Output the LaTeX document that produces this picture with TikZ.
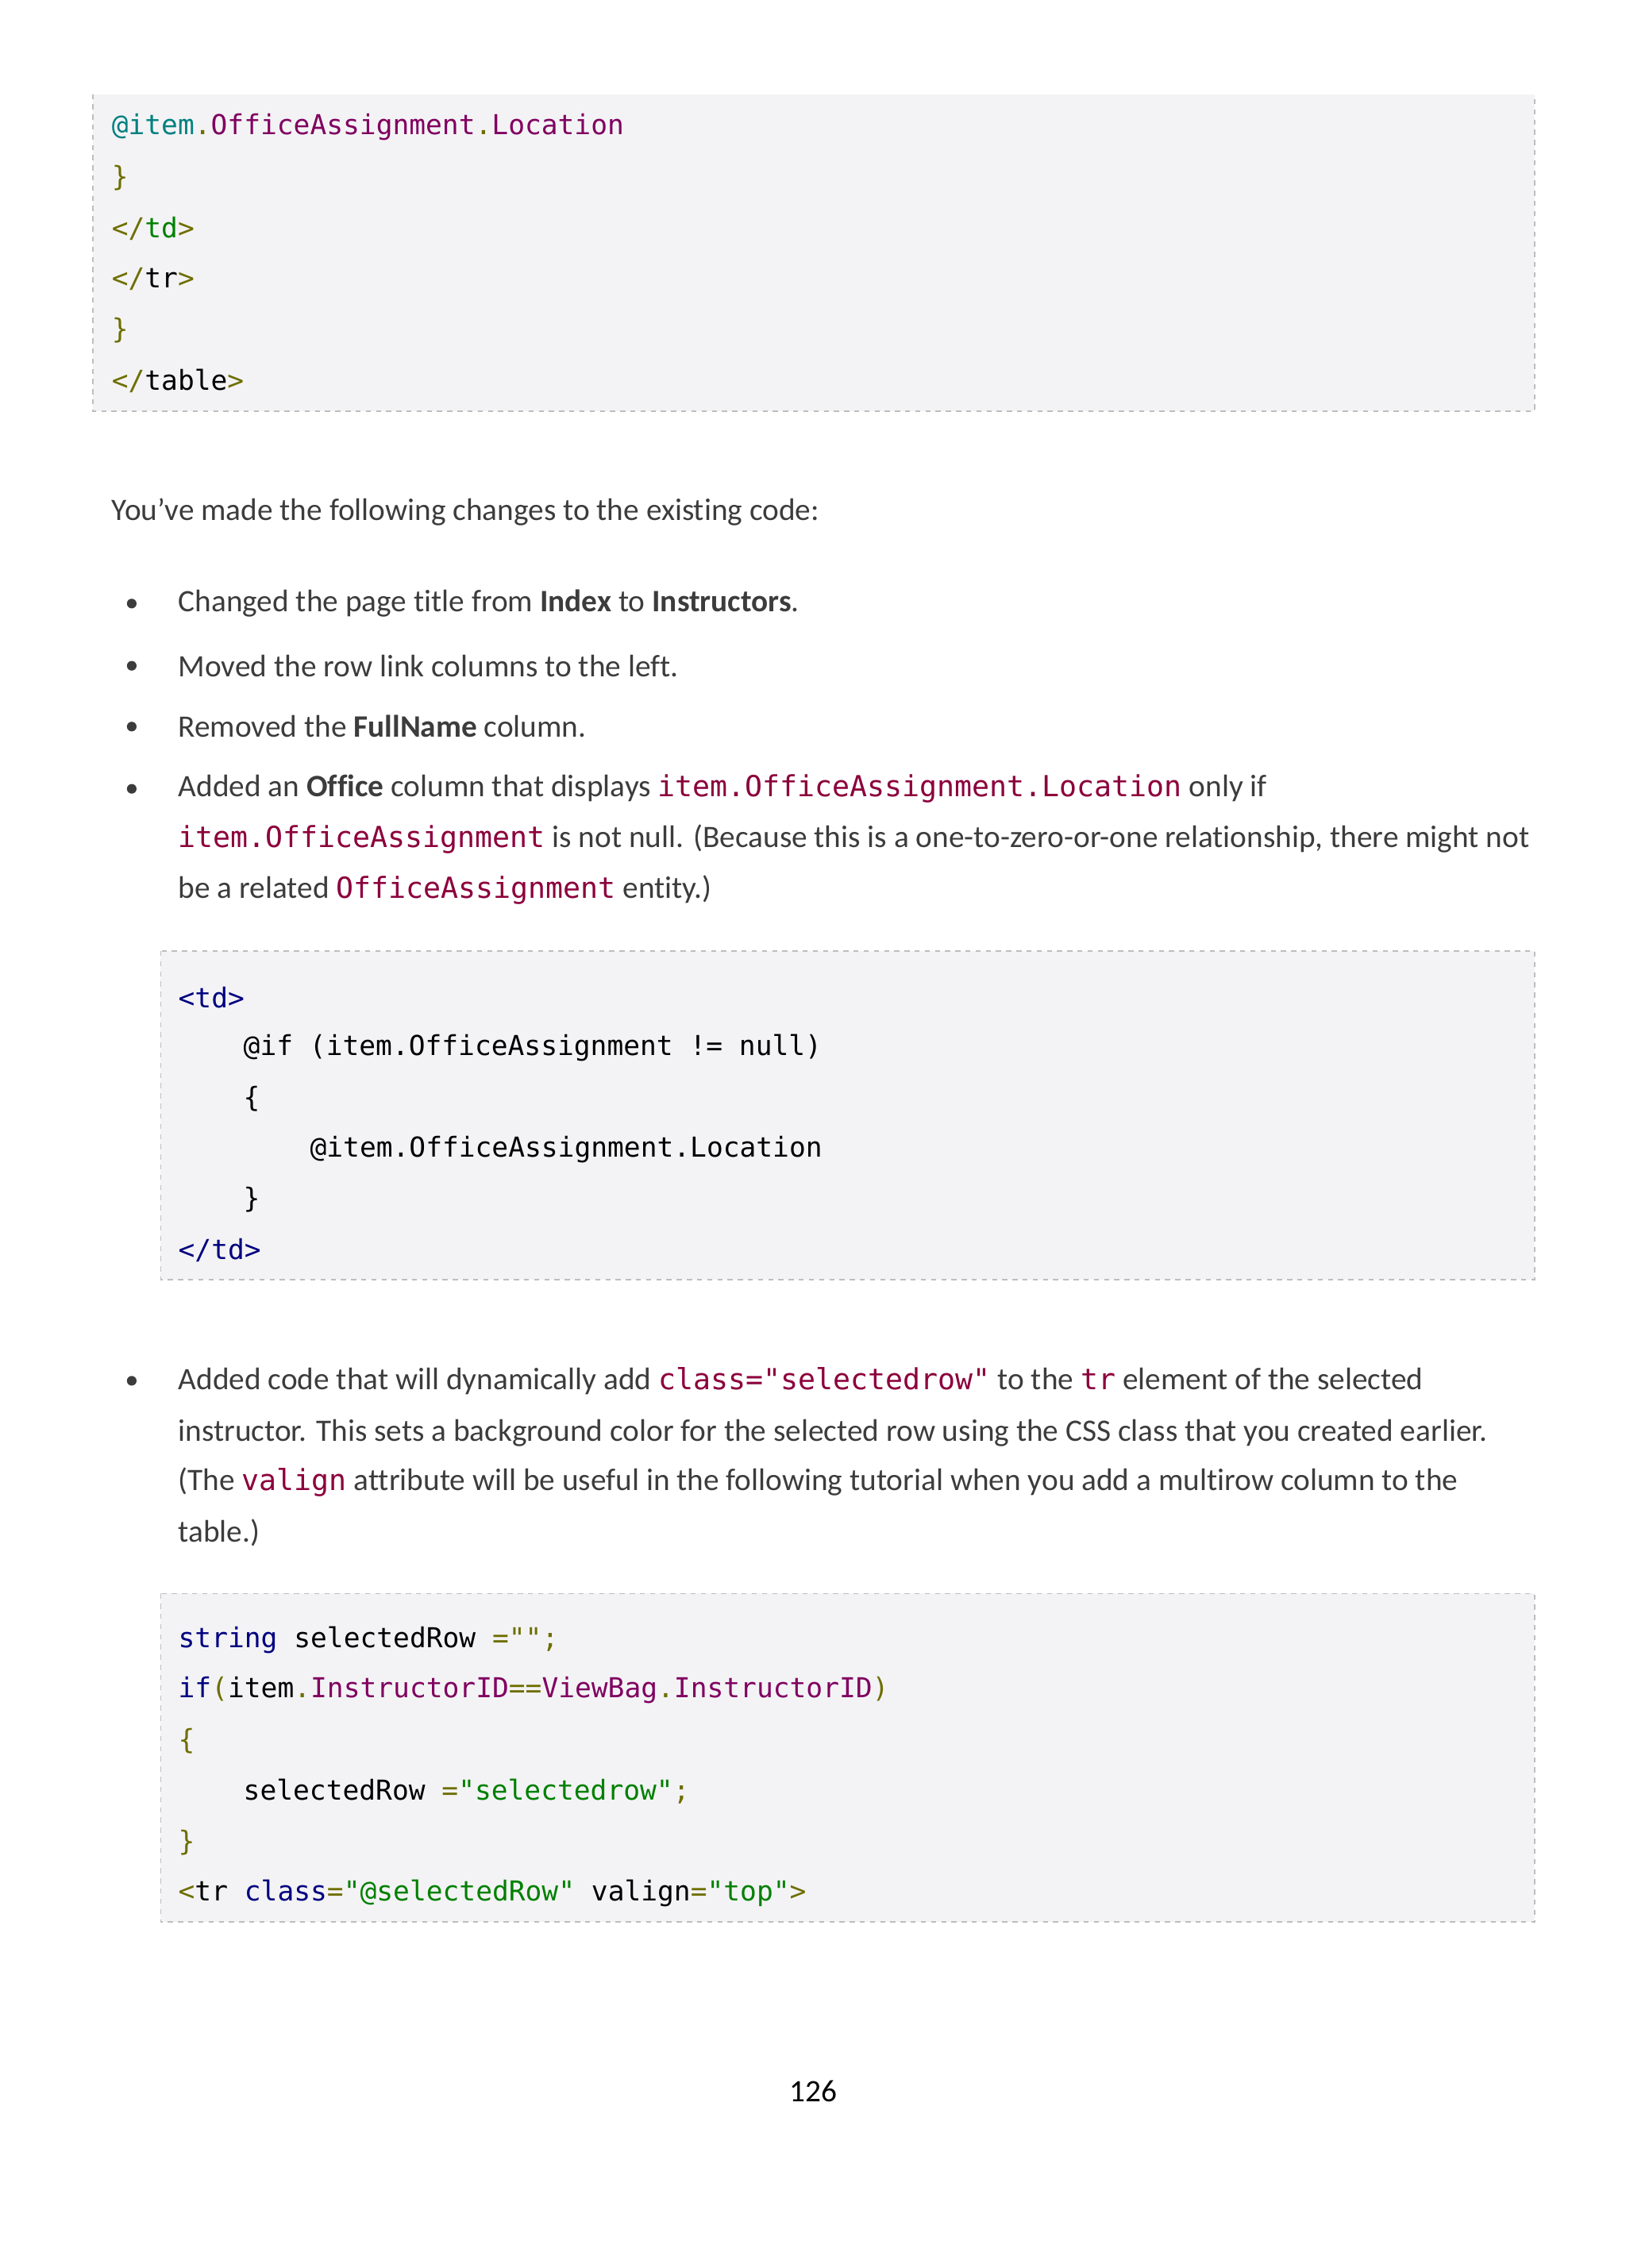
\documentclass[tikz,border=0pt]{standalone}
\usepackage{fontspec}
\setmainfont{Carlito}[Ligatures=NoCommon]
\setmonofont{DejaVu Sans Mono}[Scale=0.93]
\definecolor{bodytxt}{RGB}{60,60,60}
\definecolor{codebg}{RGB}{243,243,245}
\definecolor{boxline}{RGB}{190,190,190}
\definecolor{cteal}{RGB}{0,128,128}
\definecolor{cpurple}{RGB}{128,0,96}
\definecolor{colive}{RGB}{110,110,0}
\definecolor{cgreen}{RGB}{0,128,0}
\definecolor{cnavy}{RGB}{0,0,128}
\definecolor{cinline}{RGB}{140,0,60}
\newcommand{\cd}[1]{{\ttfamily\color{cinline}#1}}
\newcommand{\tl}[1]{{\color{cteal}#1}}
\newcommand{\pu}[1]{{\color{cpurple}#1}}
\newcommand{\ol}[1]{{\color{colive}#1}}
\newcommand{\gr}[1]{{\color{cgreen}#1}}
\newcommand{\nv}[1]{{\color{cnavy}#1}}
\begin{document}
\begin{tikzpicture}[x=0.03cm,y=-0.03cm,
  codeline/.style={anchor=west,inner sep=0,font=\ttfamily\fontsize{17.4}{19}\selectfont,text=black},
  bodyline/.style={anchor=west,inner sep=0,font=\fontsize{18.4}{21}\selectfont,text=bodytxt},
  codebox/.style={fill=codebg,draw=boxline,dashed,line width=0.8pt},
  dot/.style={circle,fill=bodytxt,inner sep=0,minimum size=0.2cm}]

\useasboundingbox[fill=white] (0,0) rectangle (1123,1567);

% first code box
\fill[codebg] (64,65) rectangle (1060,284);
\draw[boxline,dashed,line width=0.8pt] (64,65) -- (64,284) -- (1060,284) -- (1060,65);
\node[codeline] (a1) at (77,88) {\tl{@item}\ol{.}\pu{OfficeAssignment}\ol{.}\pu{Location}};
\node[codeline] (a2) at (77,123) {\ol{\}}};
\node[codeline] (a3) at (77,158) {\ol{</}\gr{td}\ol{>}};
\node[codeline] (a4) at (77,193) {\ol{</}tr\ol{>}};
\node[codeline] (a5) at (77,228) {\ol{\}}};
\node[codeline] (a6) at (77,263) {\ol{</}table\ol{>}};

\node[bodyline] (intro) at (77,354) {You've made the following changes to the existing code:};

% bullets
\foreach \y in {417,460,502,545,954} \node[dot] at (91,\y) {};
\node[bodyline] (b1) at (123,417) {Changed the page title from \textbf{Index} to \textbf{Instructors}.};
\node[bodyline] (b2) at (123,460) {Moved the row link columns to the left.};
\node[bodyline] (b3) at (123,502) {Removed the \textbf{FullName} column.};
\node[bodyline] (b4) at (123,545) {Added an \textbf{Office} column that displays \cd{item.OfficeAssignment.Location} only if};
\node[bodyline] (b4b) at (123,580) {\cd{item.OfficeAssignment} is not null. (Because this is a one-to-zero-or-one relationship, there might not};
\node[bodyline] (b4c) at (123,615) {be a related \cd{OfficeAssignment} entity.)};

% second code box
\draw[codebox] (111,657) rectangle (1060,884);
\node[codeline] (c1) at (123,689) {\nv{<td>}};
\node[codeline] (c2) at (168,724) {@if (item.OfficeAssignment != null)};
\node[codeline] (c3) at (168,759) {\{};
\node[codeline] (c4) at (214,794) {@item.OfficeAssignment.Location};
\node[codeline] (c5) at (168,829) {\}};
\node[codeline] (c6) at (123,864) {\nv{</td>}};

\node[bodyline] (b5) at (123,954) {Added code that will dynamically add \cd{class="selectedrow"} to the \cd{tr} element of the selected};
\node[bodyline] (b5b) at (123,990) {instructor. This sets a background color for the selected row using the CSS class that you created earlier.};
\node[bodyline] (b5c) at (123,1024) {(The \cd{valign} attribute will be useful in the following tutorial when you add a multirow column to the};
\node[bodyline] (b5d) at (123,1059) {table.)};

% third code box
\draw[codebox] (111,1101) rectangle (1060,1328);
\node[codeline] (d1) at (123,1133) {\nv{string} selectedRow \ol{=""}\ol{;}};
\node[codeline] (d2) at (123,1168) {\nv{if}\ol{(}item\ol{.}\pu{InstructorID}\ol{==}\pu{ViewBag}\ol{.}\pu{InstructorID}\ol{)}};
\node[codeline] (d3) at (123,1203) {\ol{\{}};
\node[codeline] (d4) at (168,1238) {selectedRow \ol{=}\gr{"selectedrow"}\ol{;}};
\node[codeline] (d5) at (123,1273) {\ol{\}}};
\node[codeline] (d6) at (123,1308) {\ol{<}tr \nv{class}\ol{=}\gr{"@selectedRow"} valign\ol{=}\gr{"top"}\ol{>}};

\node[bodyline,anchor=center,text=black] (pg) at (562,1445) {126};
\end{tikzpicture}
\end{document}
